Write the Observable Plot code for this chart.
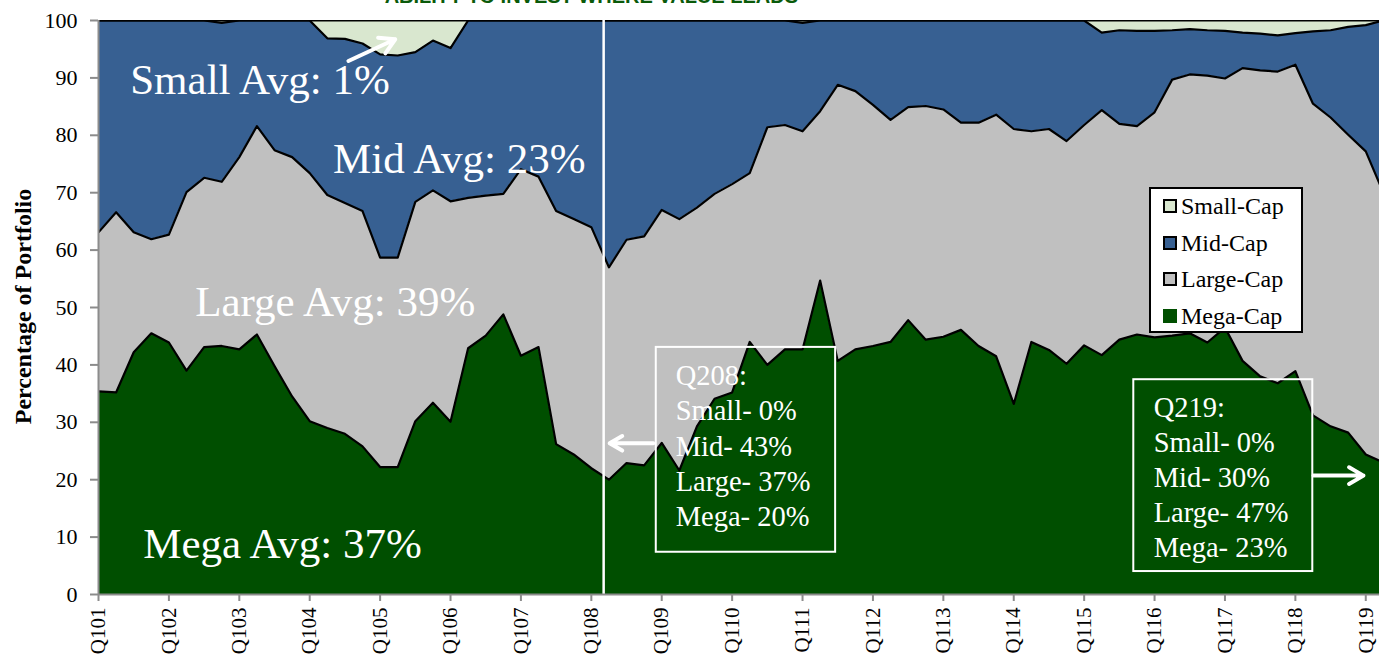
<!DOCTYPE html>
<html>
<head>
<meta charset="utf-8">
<script src="https://cdn.jsdelivr.net/npm/d3@7"></script>
<script src="https://cdn.jsdelivr.net/npm/@observablehq/plot@0.6"></script>
<style>
  html, body { margin: 0; padding: 0; background: #fff; }
  #wrap { position: relative; width: 1379px; height: 660px; overflow: hidden; font-family: "Liberation Serif", "Times New Roman", serif; }
  #wrap svg text { font-family: "Liberation Serif", "Times New Roman", serif; }
  #wrap svg text.title { font-family: "Liberation Sans", Arial, sans-serif; }
  #legend { position: absolute; left: 1149px; top: 187px; width: 150px; height: 142px; border: 2px solid #000; background: #fff; box-sizing: content-box; }
  #legend .row { position: absolute; left: 12px; height: 30px; display: flex; align-items: center; font-size: 24px; line-height: 24px; color: #000; white-space: nowrap; }
  #legend .sw { width: 10px; height: 10px; border: 2px solid #000; margin-right: 4px; }
</style>
</head>
<body>
<div id="wrap"><div id="legend"></div></div>
<script>
// ---------- data ----------
const quarters = [
  "Q101","Q201","Q301","Q401","Q102","Q202","Q302","Q402","Q103","Q203","Q303","Q403",
  "Q104","Q204","Q304","Q404","Q105","Q205","Q305","Q405","Q106","Q206","Q306","Q406",
  "Q107","Q207","Q307","Q407","Q108","Q208","Q308","Q408","Q109","Q209","Q309","Q409",
  "Q110","Q210","Q310","Q410","Q111","Q211","Q311","Q411","Q112","Q212","Q312","Q412",
  "Q113","Q213","Q313","Q413","Q114","Q214","Q314","Q414","Q115","Q215","Q315","Q415",
  "Q116","Q216","Q316","Q416","Q117","Q217","Q317","Q417","Q118","Q218","Q318","Q418",
  "Q119","Q219"
];
const tickLabels = ["Q101","Q102","Q103","Q104","Q105","Q106","Q107","Q108","Q109","Q110",
  "Q111","Q112","Q113","Q114","Q115","Q116","Q117","Q118","Q119"];
const yTicks = [0,10,20,30,40,50,60,70,80,90,100];

const megaCap = [35.4,35.2,42.2,45.5,43.9,39.0,43.1,43.3,42.7,45.3,39.8,34.5,
  30.2,29.0,28.0,25.8,22.2,22.2,30.2,33.4,30.1,42.9,45.1,48.8,
  41.6,43.1,26.2,24.4,22.0,20.0,22.9,22.5,26.4,21.6,29.3,34.1,
  35.2,44.0,40.0,42.7,42.7,54.7,40.7,42.7,43.3,44.0,47.8,44.4,
  44.9,46.1,43.3,41.5,33.2,44.0,42.6,40.2,43.4,41.7,44.4,45.3,
  44.8,45.1,45.5,43.9,46.5,40.7,38.0,36.8,38.9,31.2,29.3,28.2,
  24.4,23.0];
const largeCap = [27.7,31.4,20.9,16.4,18.8,31.1,29.5,28.6,33.5,36.3,37.6,41.7,
  43.2,40.6,40.2,41.0,36.5,36.5,38.2,37.0,38.4,26.2,24.4,21.0,
  32.5,29.7,40.6,41.0,42.0,37.0,38.9,39.9,40.6,43.8,38.1,35.7,
  36.3,29.4,41.4,39.1,38.0,29.5,48.1,45.0,42.0,38.7,37.1,40.7,
  39.6,36.1,38.9,42.1,47.9,36.7,38.5,38.8,38.4,42.7,37.6,36.3,
  39.2,44.6,45.1,46.5,43.4,51.0,53.3,54.3,53.4,54.3,53.8,51.9,
  52.8,47.0];
const midCap = [36.9,33.4,36.9,38.1,37.3,29.9,27.4,27.7,23.8,18.4,22.6,23.8,
  26.6,27.3,28.6,29.2,35.4,35.2,26.1,26.1,26.7,30.9,30.5,30.2,
  25.9,27.2,33.2,34.6,36.0,43.0,38.2,37.6,33.0,34.6,32.6,30.2,
  28.5,26.6,18.6,18.2,18.9,15.8,11.2,12.3,14.7,17.3,15.1,14.9,
  15.5,17.8,17.8,16.4,18.9,19.3,18.9,21.0,18.2,13.5,16.3,16.6,
  14.2,8.6,7.9,7.9,8.3,6.2,6.4,6.3,5.5,12.6,15.2,18.8,
  22.0,30.0];
const smallCap = [0,0,0,0,0,0,0,0.4,0,0,0,0,
  0,3.1,3.2,4.0,5.9,6.1,5.5,3.5,4.8,0,0,0,
  0,0,0,0,0,0,0,0,0,0,0,0,
  0,0,0,0,0.4,0,0,0,0,0,0,0,
  0,0,0,0,0,0,0,0,0,2.1,1.7,1.8,
  1.8,1.7,1.5,1.7,1.8,2.1,2.3,2.6,2.2,1.9,1.7,1.1,
  0.8,0];

const seriesNames = ["Mega-Cap","Large-Cap","Mid-Cap","Small-Cap"];
const seriesColors = ["#004f00","#c0c0c0","#376092","#d9e7cf"];
const seriesValues = [megaCap, largeCap, midCap, smallCap];

const avgLabels = ["Small Avg: 1%","Mid Avg: 23%","Large Avg: 39%","Mega Avg: 37%"];
const q208Text = ["Q208:","Small- 0%","Mid- 43%","Large- 37%","Mega- 20%"];
const q219Text = ["Q219:","Small- 0%","Mid- 30%","Large- 47%","Mega- 23%"];
const titleText = "ABILITY TO INVEST WHERE VALUE LEADS";
const yLabel = "Percentage of Portfolio";

// ---------- build ----------
const serif = "'Liberation Serif', 'Times New Roman', serif";
const tidy = [];
seriesNames.forEach((s, k) => {
  seriesValues[k].forEach((v, i) => tidy.push({i, series: s, value: v}));
});
const tickIdx = tickLabels.map(l => quarters.indexOf(l));

const avgPos = [
  {x: 1.8, y: 87.15, text: avgLabels[0]},
  {x: 13.33, y: 73.35, text: avgLabels[1]},
  {x: 5.49, y: 48.44, text: avgLabels[2]},
  {x: 2.54, y: 6.32, text: avgLabels[3]}
];
const boxes = [
  {x1: 31.69, x2: 41.88, y1: 7.36, y2: 43.05},
  {x1: 58.82, x2: 68.99, y1: 4.0, y2: 37.42}
];
const boxTexts = [
  {x: 32.79, y: 12.0, text: q208Text.join("\n")},
  {x: 59.95, y: 6.49, text: q219Text.join("\n")}
];
const arrows = [
  {x1: 14.2, y1: 92.95, x2: 16.86, y2: 96.73},
  {x1: 31.52, y1: 26.34, x2: 29.04, y2: 26.34},
  {x1: 69.03, y1: 20.71, x2: 71.87, y2: 20.71}
];
const separatorX = 28.7;

const chart = Plot.plot({
  width: 1379,
  height: 660,
  marginLeft: 98,
  marginRight: 0,
  marginTop: 20,
  marginBottom: 66,
  style: {fontFamily: serif, fontSize: "22px", color: "black", background: "white", overflow: "visible"},
  x: {type: "linear", domain: [0, 72.78]},
  y: {domain: [0, 100]},
  color: {domain: seriesNames, range: seriesColors},
  marks: [
    Plot.areaY(tidy, {x: "i", y: "value", z: "series", fill: "series", order: seriesNames, clip: true}),
    Plot.lineY(tidy, Plot.stackY2({x: "i", y: "value", z: "series", order: seriesNames, stroke: "black", strokeWidth: 2.2, clip: true})),
    Plot.ruleX([separatorX], {stroke: "white", strokeWidth: 2.5}),
    Plot.ruleX([0], {stroke: "#8c8c8c", strokeWidth: 2}),
    Plot.ruleY([0], {stroke: "#8c8c8c", strokeWidth: 2}),
    Plot.axisY({ticks: yTicks, tickSize: 8, tickPadding: 13, stroke: "#8c8c8c", strokeWidth: 2, fill: "black", fontSize: 22, fontFamily: serif, label: null}),
    Plot.axisX({ticks: tickIdx, tickFormat: i => quarters[i], tickRotate: -90, tickSize: 7, tickPadding: 6, stroke: "#8c8c8c", strokeWidth: 2, fill: "black", fontSize: 21, fontFamily: serif, label: null}),
    Plot.text([yLabel], {frameAnchor: "left", textAnchor: "middle", dx: -75, dy: -1, rotate: -90, text: d => d, fontSize: 24, fontWeight: "bold", fontFamily: serif, fill: "black"}),
    Plot.text(avgPos, {x: "x", y: "y", text: "text", fill: "white", fontSize: 43, fontFamily: serif, textAnchor: "start", lineAnchor: "bottom"}),
    Plot.rect(boxes, {x1: "x1", x2: "x2", y1: "y1", y2: "y2", fill: "none", stroke: "white", strokeWidth: 2}),
    Plot.text(boxTexts, {x: "x", y: "y", text: "text", fill: "white", fontSize: 28.5, fontFamily: serif, textAnchor: "start", lineAnchor: "bottom", lineHeight: 1.23}),
    Plot.arrow(arrows, {x1: "x1", y1: "y1", x2: "x2", y2: "y2", stroke: "white", strokeWidth: 4, headLength: 15}),
    Plot.text([titleText], {x: 28, y: 103.1, text: d => d, fill: "#0a5a0a", fontSize: 20, fontWeight: "bold", fontFamily: "'Liberation Sans', Arial, sans-serif", lineAnchor: "bottom", className: "title"})
  ]
});
const wrap = document.getElementById("wrap");
wrap.insertBefore(chart, wrap.firstChild);
chart.querySelectorAll("text").forEach(t => {
  if (t.textContent === titleText) t.style.fontFamily = "'Liberation Sans', Arial, sans-serif";
});

// legend (top entry first, as in the reference)
const legend = document.getElementById("legend");
const legendOrder = ["Small-Cap","Mid-Cap","Large-Cap","Mega-Cap"];
legendOrder.forEach((name, k) => {
  const row = document.createElement("div");
  row.className = "row";
  row.style.top = (2 + k * 36.7) + "px";
  const sw = document.createElement("span");
  sw.className = "sw";
  const c = seriesColors[seriesNames.indexOf(name)];
  sw.style.background = c;
  if (name === "Mega-Cap") sw.style.borderColor = c;
  const t = document.createElement("span");
  t.textContent = name;
  row.appendChild(sw);
  row.appendChild(t);
  legend.appendChild(row);
});
</script>
</body>
</html>
